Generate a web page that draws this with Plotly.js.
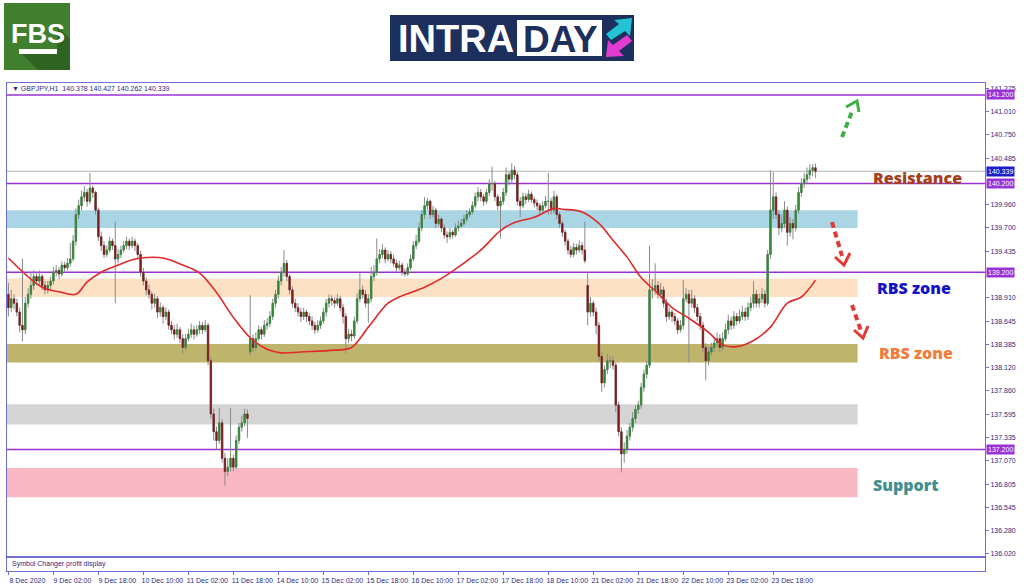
<!DOCTYPE html>
<html><head><meta charset="utf-8">
<script src="https://cdn.plot.ly/plotly-3.0.1.min.js"></script>
<style>html,body{margin:0;padding:0;background:#fff}#chart{width:1024px;height:587px}</style>
</head><body><div id="chart"></div>
<script>
// ---------- DATA (GBPJPY H1, bar 0 = 8 Dec 2020 10:00) ----------
const opens=[
138.95,138.80,138.90,138.85,138.75,138.60,138.55,138.85,138.95,139.05,
139.15,139.10,139.15,139.05,139.00,139.05,139.10,139.20,139.22,139.18,
139.28,139.25,139.30,139.35,139.55,139.85,139.95,140.05,140.10,140.00,
140.15,140.10,139.90,139.60,139.50,139.40,139.45,139.55,139.50,139.35,
139.40,139.45,139.50,139.55,139.50,139.55,139.50,139.40,139.20,139.10,
139.00,138.95,138.85,138.90,138.75,138.80,138.70,138.75,138.60,138.55,
138.50,138.55,138.45,138.35,138.45,138.50,138.55,138.50,138.55,138.60,
138.55,138.60,138.20,137.60,137.40,137.30,137.50,137.10,136.95,137.00,
137.10,137.00,137.30,137.45,137.50,137.60,138.30,138.45,138.35,138.45,
138.55,138.50,138.60,138.62,138.70,138.85,138.95,139.10,139.20,139.30,
139.15,139.00,138.85,138.80,138.75,138.70,138.75,138.70,138.65,138.60,
138.55,138.60,138.65,138.75,138.85,138.90,138.88,138.85,138.90,138.80,
138.70,138.45,138.50,138.48,138.65,138.90,139.00,138.95,138.85,138.90,
139.15,139.20,139.35,139.40,139.45,139.35,139.40,139.35,139.30,139.25,
139.28,139.20,139.18,139.25,139.35,139.50,139.55,139.70,139.85,139.95,
140.00,139.85,139.90,139.75,139.80,139.70,139.62,139.60,139.65,139.62,
139.70,139.72,139.75,139.80,139.85,139.88,139.95,140.05,140.10,140.05,
140.00,140.10,140.20,140.20,140.05,139.95,140.00,140.10,140.30,140.25,
140.35,140.30,140.00,139.95,140.05,140.02,140.08,140.02,139.98,139.95,
139.90,139.95,140.00,140.00,139.90,140.05,139.85,139.75,139.65,139.55,
139.45,139.40,139.48,139.45,139.50,139.45,139.05,138.75,138.85,138.75,
138.60,138.25,137.95,138.10,138.20,138.20,138.15,137.70,137.40,137.15,
137.20,137.35,137.45,137.55,137.65,137.70,137.90,138.05,138.15,139.00,
139.00,139.05,138.95,139.00,138.85,138.70,138.75,138.70,138.65,138.55,
138.60,138.90,138.95,138.85,138.90,138.80,138.70,138.60,138.35,138.20,
138.30,138.35,138.40,138.45,138.35,138.45,138.55,138.65,138.60,138.70,
138.65,138.70,138.75,138.70,138.80,138.85,138.95,138.85,138.90,138.95,
138.85,139.40,139.90,140.05,139.85,139.70,139.75,139.90,139.65,139.75,
139.70,139.90,140.10,140.20,140.25,140.30,140.35,140.378];
const highs=[
139.08,139.00,138.95,138.90,138.80,139.35,138.92,139.02,139.20,139.22,
139.20,139.22,139.18,139.10,139.10,139.15,139.26,139.28,139.26,139.32,
139.32,139.36,139.53,139.62,139.92,140.02,140.12,140.17,140.14,140.32,
140.18,140.12,139.93,139.66,139.55,139.50,139.60,139.58,139.77,139.46,
139.50,139.55,139.60,139.58,139.60,139.58,139.53,139.44,139.25,139.14,
139.06,138.98,138.96,138.93,138.86,138.83,138.80,138.78,138.65,138.60,
138.62,138.58,138.50,138.50,138.56,138.62,138.60,138.60,138.65,138.64,
138.66,138.63,138.24,137.66,137.46,137.67,137.54,137.16,137.10,137.67,
137.14,137.36,137.50,137.58,137.66,137.65,138.94,138.50,138.52,138.60,
138.58,138.66,138.68,138.76,138.90,139.00,139.16,139.26,139.45,139.34,
139.18,139.04,138.90,138.85,138.80,138.80,138.78,138.74,138.70,138.64,
138.66,138.70,138.80,138.90,138.95,138.94,138.92,138.95,138.93,138.84,
138.74,138.56,138.55,138.70,138.96,139.19,139.05,139.00,138.95,139.26,
139.28,139.58,139.46,139.52,139.48,139.45,139.44,139.40,139.34,139.33,
139.31,139.24,139.30,139.40,139.55,139.62,139.76,139.90,140.05,140.04,
140.02,139.95,139.93,139.85,139.82,139.74,139.66,139.70,139.68,139.75,
139.78,139.80,139.85,139.90,139.92,140.00,140.10,140.16,140.14,140.08,
140.14,140.25,140.39,140.23,140.08,140.05,140.15,140.38,140.34,140.43,
140.40,140.33,140.05,140.10,140.09,140.13,140.11,140.05,140.02,139.98,
140.00,140.06,140.32,140.04,140.12,140.08,139.88,139.78,139.68,139.58,
139.50,139.53,139.52,139.56,139.54,139.77,139.20,138.92,138.88,138.80,
138.64,138.30,138.15,138.28,138.26,138.25,138.18,137.74,137.45,137.28,
137.42,137.50,137.62,137.70,137.75,137.95,138.10,138.20,139.50,139.12,
139.30,139.10,139.08,139.04,138.90,138.80,138.78,138.74,138.68,138.66,
139.11,139.02,139.00,139.00,138.94,138.84,138.74,138.64,138.40,138.36,
138.40,138.46,138.52,138.50,138.52,138.62,138.72,138.70,138.76,138.74,
138.78,138.82,138.80,138.86,138.92,139.10,139.00,138.96,139.02,139.00,
139.45,140.35,140.33,140.10,139.90,139.85,140.00,139.94,139.82,139.80,
139.96,140.16,140.26,140.32,140.38,140.42,140.42,140.427];
const lows=[
138.70,138.75,138.78,138.70,138.52,138.42,138.50,138.80,138.90,139.00,
139.05,139.05,139.00,138.95,138.96,139.00,139.06,139.15,139.12,139.15,
139.20,139.22,139.26,139.32,139.50,139.80,139.90,140.00,139.94,139.97,
140.04,139.85,139.55,139.44,139.36,139.37,139.42,139.45,138.85,139.30,
139.36,139.42,139.46,139.45,139.47,139.44,139.35,139.15,139.05,138.94,
138.90,138.78,138.80,138.68,138.70,138.62,138.66,138.55,138.50,138.44,
138.46,138.40,138.28,138.32,138.42,138.46,138.44,138.47,138.50,138.50,
138.52,138.15,137.55,137.30,137.20,137.26,137.05,136.79,136.90,136.95,
136.95,136.98,137.26,137.40,137.46,137.33,138.26,138.30,138.32,138.42,
138.44,138.47,138.55,138.58,138.66,138.80,138.90,139.05,139.15,139.10,
138.95,138.80,138.75,138.70,138.64,138.66,138.64,138.60,138.55,138.50,
138.52,138.56,138.62,138.70,138.80,138.82,138.80,138.82,138.76,138.62,
138.28,138.40,138.42,138.45,138.62,138.86,138.90,138.80,138.63,138.86,
139.10,139.16,139.30,139.36,139.30,139.32,139.30,139.26,139.20,139.22,
139.16,139.15,139.16,139.22,139.32,139.46,139.52,139.66,139.80,139.90,
139.80,139.82,139.70,139.72,139.65,139.58,139.53,139.57,139.58,139.60,
139.66,139.70,139.72,139.77,139.82,139.85,139.92,140.00,140.00,139.95,
139.97,140.06,140.12,140.00,139.90,139.58,139.96,140.06,140.18,140.20,
140.25,139.95,139.82,139.92,139.97,139.99,139.98,139.93,139.90,139.85,
139.87,139.92,139.85,139.85,139.86,139.80,139.70,139.60,139.50,139.40,
139.36,139.37,139.40,139.42,139.40,139.30,138.60,138.70,138.70,138.50,
138.20,137.85,137.90,138.05,138.12,138.10,137.62,137.35,136.94,137.05,
137.15,137.30,137.40,137.50,137.60,137.66,137.85,138.00,138.12,138.90,
138.95,138.90,138.90,138.80,138.64,138.66,138.64,138.60,138.50,138.52,
138.56,138.86,138.18,138.80,138.74,138.65,138.55,138.30,137.98,138.15,
138.26,138.30,138.36,138.30,138.32,138.42,138.50,138.55,138.56,138.60,
138.62,138.66,138.65,138.66,138.76,138.80,138.80,138.80,138.85,138.80,
138.82,139.35,139.80,139.80,139.62,139.65,139.70,139.50,139.60,139.57,
139.66,139.86,140.05,140.15,140.20,140.25,140.28,140.262];
const closes=[
138.80,138.90,138.85,138.75,138.60,138.55,138.85,138.95,139.05,139.15,
139.10,139.15,139.05,139.00,139.05,139.10,139.20,139.22,139.18,139.28,
139.25,139.30,139.35,139.55,139.85,139.95,140.05,140.10,140.00,140.15,
140.10,139.90,139.60,139.50,139.40,139.45,139.55,139.50,139.35,139.40,
139.45,139.50,139.55,139.50,139.55,139.50,139.40,139.20,139.10,139.00,
138.95,138.85,138.90,138.75,138.80,138.70,138.75,138.60,138.55,138.50,
138.55,138.45,138.35,138.45,138.50,138.55,138.50,138.55,138.60,138.55,
138.60,138.20,137.60,137.40,137.30,137.50,137.10,136.95,137.00,137.10,
137.00,137.30,137.45,137.50,137.60,137.55,138.45,138.35,138.45,138.55,
138.50,138.60,138.62,138.70,138.85,138.95,139.10,139.20,139.30,139.15,
139.00,138.85,138.80,138.75,138.70,138.75,138.70,138.65,138.60,138.55,
138.60,138.65,138.75,138.85,138.90,138.88,138.85,138.90,138.80,138.70,
138.45,138.50,138.48,138.65,138.90,139.00,138.95,138.85,138.90,139.15,
139.20,139.35,139.40,139.45,139.35,139.40,139.35,139.30,139.25,139.28,
139.20,139.18,139.25,139.35,139.50,139.55,139.70,139.85,139.95,140.00,
139.85,139.90,139.75,139.80,139.70,139.62,139.60,139.65,139.62,139.70,
139.72,139.75,139.80,139.85,139.88,139.95,140.05,140.10,140.05,140.00,
140.10,140.20,140.20,140.05,139.95,140.00,140.10,140.30,140.25,140.35,
140.30,140.00,139.95,140.05,140.02,140.08,140.02,139.98,139.95,139.90,
139.95,140.00,140.00,139.90,140.05,139.85,139.75,139.65,139.55,139.45,
139.40,139.48,139.45,139.50,139.45,139.33,138.75,138.85,138.75,138.60,
138.25,137.95,138.10,138.20,138.20,138.15,137.70,137.40,137.15,137.20,
137.35,137.45,137.55,137.65,137.70,137.90,138.05,138.15,139.00,139.00,
139.05,138.95,139.00,138.85,138.70,138.75,138.70,138.65,138.55,138.60,
138.90,138.95,138.85,138.90,138.80,138.70,138.60,138.35,138.20,138.30,
138.35,138.40,138.45,138.35,138.45,138.55,138.65,138.60,138.70,138.65,
138.70,138.75,138.70,138.80,138.85,138.95,138.85,138.90,138.95,138.85,
139.40,139.90,140.05,139.85,139.70,139.75,139.90,139.65,139.75,139.70,
139.90,140.10,140.20,140.25,140.30,140.35,140.38,140.339];

// moving average
const maBars=[0,12,18,24,28,33,39,44,47,55,62,68,74,80,86,92,97,104,116,122,128,135,139,148,154,161,168,175,180,187,194,197,204,210,215,220,225,231,236,242,249,254,259,265,271,277,282,287];
const maValues=[139.36,139.03,138.98,138.95,139.09,139.20,139.28,139.34,139.36,139.36,139.28,139.19,138.97,138.69,138.46,138.33,138.29,138.30,138.32,138.35,138.58,138.85,138.92,139.03,139.13,139.28,139.45,139.67,139.76,139.82,139.92,139.91,139.88,139.75,139.56,139.37,139.14,138.96,138.80,138.68,138.52,138.38,138.36,138.43,138.58,138.85,138.92,139.11];

// time axis
const tickBars=[0,16,32,48,64,80,96,112,128,144,160,176,192,208,224,240,256,272];
const tickLabels=['8 Dec 2020','9 Dec 02:00','9 Dec 18:00','10 Dec 10:00','11 Dec 02:00','11 Dec 18:00','14 Dec 10:00','15 Dec 02:00','15 Dec 18:00','16 Dec 10:00','17 Dec 02:00','17 Dec 18:00','18 Dec 10:00','21 Dec 02:00','21 Dec 18:00','22 Dec 10:00','23 Dec 02:00','23 Dec 18:00'];

// price axis
const priceTicks=[141.275,141.010,140.750,140.485,139.960,139.700,139.435,138.910,138.645,138.385,138.120,137.860,137.595,137.335,137.070,136.805,136.545,136.280,136.020];
const levelPrices=[141.200,140.200,139.200,137.200];
const lastPrice=140.339;

// zones
const zoneLows=[139.70,138.92,138.18,137.48,136.66];
const zoneHighs=[139.90,139.13,138.39,137.71,136.99];
const zoneEndBar=302;
const zoneColors=['#a9d5e4','#fce1c5','#bfb46b','#d4d4d4','#f9b8c2'];

// ---------- DRAW ----------
const L=7,R=985,T=83,B=571;
const xp=px=>(px-L)/(R-L);
const yp=py=>(B-py)/(B-T);
const bars=closes.map((_,i)=>i);
const bodyTop=opens.map((o,i)=>Math.max(o,closes[i]));
const bodyBot=opens.map((o,i)=>Math.min(o,closes[i]));
const navy='#2b2b85', frame='#6f6fd6', purple='#9b32d8';
const fnt='Liberation Sans, Arial, sans-serif';
const upC='#2f8a34', dnC='#7d1a1a', wickC='#8a8a8a';

const traces=[
 // wicks (full range, grey)
 {type:'candlestick',x:bars,open:opens,high:highs,low:lows,close:closes,
  increasing:{line:{color:wickC,width:1},fillcolor:wickC},
  decreasing:{line:{color:wickC,width:1},fillcolor:wickC},
  whiskerwidth:0,hoverinfo:'none',showlegend:false},
 // coloured bodies
 {type:'candlestick',x:bars,open:opens,high:bodyTop,low:bodyBot,close:closes,
  increasing:{line:{color:upC,width:0.6},fillcolor:upC},
  decreasing:{line:{color:dnC,width:0.6},fillcolor:dnC},
  whiskerwidth:0,hoverinfo:'none',showlegend:false},
 {type:'scatter',mode:'lines',x:maBars,y:maValues,
  line:{color:'#e02a2a',width:1.6,shape:'spline',smoothing:1},hoverinfo:'none',showlegend:false}
];

const shapes=[];
zoneLows.forEach((lo,k)=>shapes.push({type:'rect',xref:'x',yref:'y',x0:-0.5,x1:zoneEndBar,y0:lo,y1:zoneHighs[k],fillcolor:zoneColors[k],line:{width:0},layer:'below'}));
shapes.push({type:'line',xref:'paper',yref:'y',x0:0,x1:1,y0:lastPrice,y1:lastPrice,line:{color:'#b4b4b4',width:1},layer:'below'});
levelPrices.forEach(p=>shapes.push({type:'line',xref:'paper',yref:'y',x0:0,x1:1,y0:p,y1:p,line:{color:purple,width:1.5},layer:'below'}));
// separator main window / indicator window
shapes.push({type:'line',xref:'paper',yref:'paper',x0:0,x1:1,y0:yp(557),y1:yp(557),line:{color:frame,width:2}});
// arrows
function seg(x0,y0,x1,y1,c){return {type:'line',xref:'paper',yref:'paper',x0:xp(x0),y0:yp(y0),x1:xp(x1),y1:yp(y1),line:{color:c,width:4,dash:'6px,4px'}};}
function chev(a,b,c,col){return {type:'path',xref:'paper',yref:'paper',path:`M ${xp(a[0])},${yp(a[1])} L ${xp(b[0])},${yp(b[1])} L ${xp(c[0])},${yp(c[1])}`,line:{color:col,width:3}};}
const gC='#3fae45', rC='#e53935';
shapes.push(seg(842,137,853,109,gC), chev([846,107],[857,101],[859,112],gC));
shapes.push(seg(832,222,842,256,rC), chev([835,257],[844,265],[850,253],rC));
shapes.push(seg(852,305,861,331,rC), chev([854,330],[863,338],[868,326],rC));
// FBS logo
shapes.push({type:'rect',xref:'paper',yref:'paper',x0:xp(4),x1:xp(70),y0:yp(3),y1:yp(70),fillcolor:'#3f7f2d',line:{width:0}});
shapes.push({type:'path',xref:'paper',yref:'paper',path:`M ${xp(58)},${yp(27)} L ${xp(70)},${yp(39)} L ${xp(70)},${yp(70)} L ${xp(38)},${yp(70)} L ${xp(22)},${yp(54)} L ${xp(57)},${yp(54)} Z`,fillcolor:'#2f6322',line:{width:0}});
shapes.push({type:'rect',xref:'paper',yref:'paper',x0:xp(19),x1:xp(57),y0:yp(49),y1:yp(54),fillcolor:'#ffffff',line:{width:0}});
// INTRADAY logo
shapes.push({type:'rect',xref:'paper',yref:'paper',x0:xp(390),x1:xp(634),y0:yp(15),y1:yp(61),fillcolor:'#1d2f5c',line:{width:0}});
shapes.push({type:'rect',xref:'paper',yref:'paper',x0:xp(517),x1:xp(602),y0:yp(20),y1:yp(56),fillcolor:'#ffffff',line:{width:0}});
function poly(pts,col){return {type:'path',xref:'paper',yref:'paper',path:'M '+pts.map(p=>xp(p[0])+','+yp(p[1])).join(' L ')+' Z',fillcolor:col,line:{width:0}};}
shapes.push(poly([[606,34],[619,24],[614,20],[632,18],[630,36],[625,31],[611,40]],'#22c3d3'));
shapes.push(poly([[632,41],[619,51],[624,56],[606,57],[608,40],[613,45],[627,35]],'#e23bd2'));

const ann=[];
function txt(x,y,text,size,color,opts){ann.push(Object.assign({xref:'paper',yref:'paper',x:xp(x),y:yp(y),text:text,showarrow:false,xanchor:'left',yanchor:'middle',font:{family:fnt,size:size,color:color}},opts||{}));}
const lastI=closes.length-1;
txt(10,89,'▼ GBPJPY,H1  '+opens[lastI].toFixed(3)+' '+highs[lastI].toFixed(3)+' '+lows[lastI].toFixed(3)+' '+closes[lastI].toFixed(3),7,navy);
txt(10,564,'Symbol Changer profit display',7,navy);
// level labels on the price scale
levelPrices.forEach(p=>ann.push({xref:'paper',yref:'y',x:1,y:p,xanchor:'left',yanchor:'middle',xshift:1,showarrow:false,text:p.toFixed(3),bgcolor:purple,borderpad:1,font:{family:fnt,size:7,color:'#ffffff'}}));
ann.push({xref:'paper',yref:'y',x:1,y:lastPrice,xanchor:'left',yanchor:'middle',xshift:1,showarrow:false,text:lastPrice.toFixed(3),bgcolor:'#1c1cc8',borderpad:1,font:{family:fnt,size:7,color:'#ffffff'}});
// zone labels
const bf='Open Sans, Roboto, sans-serif';
txt(871,178,'Resistance',16,'#a43f1a',{font:{family:bf,size:16,color:'#a43f1a',weight:800}});
txt(875,288,'RBS zone',16,'#1414c4',{font:{family:bf,size:16,color:'#1414c4',weight:800}});
txt(877,353,'RBS zone',16,'#f07c3e',{font:{family:bf,size:16,color:'#f07c3e',weight:800}});
txt(871,485,'Support',16,'#428f8d',{font:{family:bf,size:16,color:'#428f8d',weight:800}});
// logo texts
txt(38,34,'FBS',25,'#ffffff',{xanchor:'center',font:{family:'Liberation Sans Narrow, Liberation Sans, sans-serif',size:27,color:'#ffffff',weight:700}});
txt(456,39,'INTRA',38,'#ffffff',{xanchor:'center',font:{family:'Liberation Sans, Arial, sans-serif',size:38,color:'#ffffff',weight:700}});
txt(560,39,'DAY',38,'#1d2f5c',{xanchor:'center',font:{family:'Liberation Sans, Arial, sans-serif',size:37,color:'#1d2f5c',weight:700}});

const layout={
 width:1024,height:587,margin:{l:L,r:1024-R,t:T,b:587-B},
 paper_bgcolor:'#ffffff',plot_bgcolor:'#ffffff',showlegend:false,dragmode:false,boxmode:'overlay',
 xaxis:{type:'linear',range:[-0.5,347.3],tickvals:tickBars,ticktext:tickLabels,ticks:'outside',ticklen:3,tickcolor:frame,
  tickfont:{family:fnt,size:7,color:navy},ticklabelshift:19,showgrid:false,zeroline:false,showline:true,mirror:true,linecolor:frame,linewidth:1,
  rangeslider:{visible:false},fixedrange:true},
 yaxis:{range:[135.828,141.335],side:'right',tickvals:priceTicks,tickformat:'.3f',ticks:'outside',ticklen:3,tickcolor:frame,
  tickfont:{family:fnt,size:7,color:navy},showgrid:false,zeroline:false,showline:true,mirror:true,linecolor:frame,linewidth:1,fixedrange:true},
 shapes:shapes,annotations:ann
};
Plotly.newPlot('chart',traces,layout,{displayModeBar:false,staticPlot:true});
</script></body></html>
